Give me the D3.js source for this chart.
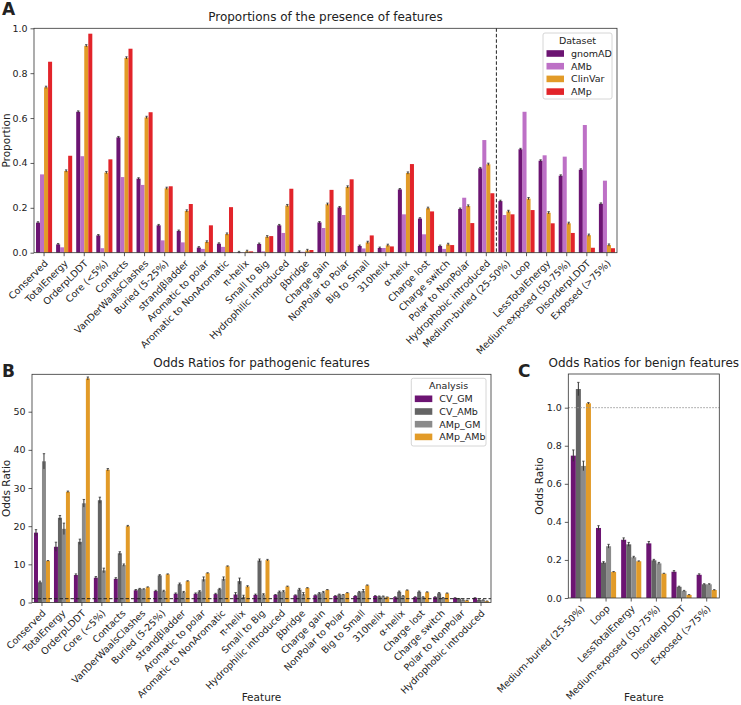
<!DOCTYPE html>
<html>
<head lang="en">
<meta charset="UTF-8">
<title></title>
<script src="https://cdnjs.cloudflare.com/ajax/libs/d3/7.8.5/d3.min.js"></script>
<style>
    body { margin: 0; background: #fff; }
    text { font-family: "DejaVu Sans", sans-serif; fill: #222; }
</style>
</head>
<body>
<script>

// ---- panel A: proportions ----
var featuresA = ["Conserved", "TotalEnergy", "OrderpLDDT", "Core (<5%)", "Contacts", "VanDerWaalsClashes",
    "Buried (5-25%)", "strandβladder", "Aromatic to polar", "Aromatic to NonAromatic", "π-helix", "Small to Big",
    "Hydrophilic introduced", "βbridge", "Charge gain", "NonPolar to Polar", "Big to Small", "310helix", "α-helix",
    "Charge lost", "Charge switch", "Polar to NonPolar", "Hydrophobic introduced", "Medium-buried (25-50%)", "Loop",
    "LessTotalEnergy", "Medium-exposed (50-75%)", "DisorderpLDDT", "Exposed (>75%)"];
var gnomAD  = [0.134, 0.037, 0.628, 0.077, 0.514, 0.330, 0.122, 0.097, 0.023, 0.040, 0.002, 0.039, 0.122, 0.004, 0.135,
               0.202, 0.030, 0.021, 0.282, 0.152, 0.030, 0.195, 0.376, 0.230, 0.461, 0.410, 0.343, 0.370, 0.218];
var AMb     = [0.349, 0.024, 0.430, 0.020, 0.337, 0.302, 0.055, 0.046, 0.017, 0.026, 0.001, 0.006, 0.088, 0.004, 0.110,
               0.168, 0.019, 0.021, 0.171, 0.082, 0.017, 0.245, 0.502, 0.168, 0.628, 0.434, 0.428, 0.569, 0.321];
var ClinVar = [0.737, 0.364, 0.922, 0.357, 0.868, 0.603, 0.287, 0.186, 0.048, 0.083, 0.006, 0.071, 0.210, 0.010, 0.216,
               0.293, 0.046, 0.033, 0.355, 0.198, 0.037, 0.208, 0.394, 0.184, 0.241, 0.178, 0.131, 0.078, 0.034];
var AMp     = [0.851, 0.432, 0.976, 0.416, 0.909, 0.626, 0.296, 0.217, 0.122, 0.203, 0.006, 0.074, 0.285, 0.012, 0.280,
               0.327, 0.077, 0.028, 0.395, 0.184, 0.034, 0.132, 0.265, 0.171, 0.190, 0.131, 0.088, 0.022, 0.020];
var datasets = ["gnomAD", "AMb", "ClinVar", "AMp"];
var errA = [0.004, 0, 0.005, 0];   // error half-width per dataset (tiny)
var yTicksA = [0, 0.2, 0.4, 0.6, 0.8, 1.0];

// ---- panel B: odds ratios, pathogenic ----
var featuresB = ["Conserved", "TotalEnergy", "OrderpLDDT", "Core (<5%)", "Contacts", "VanDerWaalsClashes",
    "Buried (5-25%)", "strandβladder", "Aromatic to polar", "Aromatic to NonAromatic", "π-helix", "Small to Big",
    "Hydrophilic introduced", "βbridge", "Charge gain", "NonPolar to Polar", "Big to Small", "310helix", "α-helix",
    "Charge lost", "Charge switch", "Polar to NonPolar", "Hydrophobic introduced"];
var CV_GM_B   = [18.3, 14.6, 7.2, 6.5, 6.2, 3.2, 3.0, 2.3, 2.3, 2.2, 2.1, 2.0, 2.0, 1.9, 1.9, 1.7, 1.7, 1.7, 1.4, 1.4, 1.4, 1.2, 1.2];
var CV_AMb_B  = [5.3, 22.2, 15.9, 26.8, 12.9, 3.6, 7.1, 4.8, 2.9, 3.5, 5.6, 11.0, 2.8, 3.4, 2.4, 2.1, 2.7, 1.6, 2.8, 2.8, 2.4, 1.0, 0.65];
var AMp_GM_B  = [37.0, 19.3, 26.0, 8.4, 9.8, 3.5, 3.0, 2.7, 6.1, 6.2, 1.5, 2.1, 2.9, 2.2, 2.7, 2.0, 3.0, 1.6, 1.7, 1.4, 1.2, 0.65, 0.65];
var AMp_AMb_B = [10.9, 29.0, 58.7, 34.8, 20.0, 4.0, 7.4, 5.6, 7.7, 9.5, 4.2, 11.1, 4.2, 3.8, 3.3, 2.5, 4.5, 1.4, 3.2, 2.7, 2.4, 0.55, 0.35];
var errCV_GM_B   = [0.8, 1.2, 0.3, 0.3, 0.3, 0.2, 0.2, 0.2, 0.2, 0.2, 0.5, 0.2, 0.1, 0.1, 0.1, 0.1, 0.1, 0.1, 0.1, 0.1, 0.1, 0.05, 0.05];
var errCV_AMb_B  = [0.3, 0.6, 0.7, 0.8, 0.4, 0.1, 0.2, 0.3, 0.2, 0.2, 0.8, 0.4, 0.2, 0.3, 0.2, 0.1, 0.2, 0.1, 0.2, 0.2, 0.2, 0.05, 0.05];
var errAMp_GM_B  = [2.0, 1.5, 1.0, 0.6, 0.3, 0.1, 0.2, 0.2, 0.6, 0.5, 0.4, 0.2, 0.2, 0.4, 0.2, 0.1, 0.4, 0.1, 0.1, 0.1, 0.1, 0.05, 0.05];
var errAMp_AMb_B = [0.1, 0.2, 0.4, 0.3, 0.2, 0.1, 0.1, 0.1, 0.1, 0.1, 0.2, 0.2, 0.1, 0.1, 0.1, 0.1, 0.1, 0.05, 0.1, 0.1, 0.1, 0.05, 0.05];
var yTicksB = [0, 10, 20, 30, 40, 50];

// ---- panel C: odds ratios, benign ----
var featuresC = ["Medium-buried (25-50%)", "Loop", "LessTotalEnergy", "Medium-exposed (50-75%)", "DisorderpLDDT", "Exposed (>75%)"];
var CV_GM_C   = [0.748, 0.368, 0.306, 0.287, 0.138, 0.122];
var CV_AMb_C  = [1.098, 0.186, 0.282, 0.198, 0.059, 0.072];
var AMp_GM_C  = [0.694, 0.272, 0.214, 0.182, 0.037, 0.072];
var AMp_AMb_C = [1.023, 0.137, 0.193, 0.128, 0.016, 0.042];
var errCV_GM_C   = [0.03, 0.012, 0.01, 0.01, 0.006, 0.005];
var errCV_AMb_C  = [0.035, 0.005, 0.01, 0.005, 0.003, 0.003];
var errAMp_GM_C  = [0.025, 0.01, 0.005, 0.005, 0.003, 0.003];
var errAMp_AMb_C = [0.004, 0.002, 0.002, 0.002, 0.002, 0.002];
var yTicksC = [0, 0.2, 0.4, 0.6, 0.8, 1.0];

var analyses = ["CV_GM", "CV_AMb", "AMp_GM", "AMp_AMb"];

var purple = "#6c1472", orchid = "#bd70c6", orange = "#e29b28", red = "#e2242a",
    dgray = "#646464", mgray = "#8b8b8b";

var svg = d3.select("body").append("svg")
        .attr("width", 741)
        .attr("height", 705);

// draws one grouped bar panel
function drawPanel(p) {
    var x = d3.scaleBand().domain(p.cats).range([p.left, p.right]).paddingInner(0.2).paddingOuter(0.1);
    var xs = d3.scaleBand().domain(p.series).range([0, x.bandwidth()]);
    var y = d3.scaleLinear().domain([0, p.ymax]).range([p.bottom, p.top]);

    var g = svg.append("g");

    p.series.forEach(function(s, si) {
        var rows = p.cats.map(function(c, i) { return { c: c, v: p.values[si][i], e: p.errs[si][i] }; });
        g.selectAll(null)
            .data(rows)
            .enter()
            .append("rect")
            .attr("x", function(d) { return x(d.c) + xs(s); })
            .attr("width", xs.bandwidth())
            .attr("y", function(d) { return y(d.v); })
            .attr("height", function(d) { return y(0) - y(d.v); })
            .attr("fill", p.colors[si]);

        var eb = rows.filter(function(d) { return d.e > 0; });
        g.selectAll(null)
            .data(eb)
            .enter()
            .append("line")
            .attr("x1", function(d) { return x(d.c) + xs(s) + xs.bandwidth() / 2; })
            .attr("x2", function(d) { return x(d.c) + xs(s) + xs.bandwidth() / 2; })
            .attr("y1", function(d) { return y(d.v - d.e); })
            .attr("y2", function(d) { return y(d.v + d.e); })
            .attr("stroke", "#333")
            .attr("stroke-width", 1);
        g.selectAll(null)
            .data(eb)
            .enter()
            .append("line")
            .attr("x1", function(d) { return x(d.c) + xs(s) + xs.bandwidth() / 2 - 1.2; })
            .attr("x2", function(d) { return x(d.c) + xs(s) + xs.bandwidth() / 2 + 1.2; })
            .attr("y1", function(d) { return y(d.v + d.e); })
            .attr("y2", function(d) { return y(d.v + d.e); })
            .attr("stroke", "#333")
            .attr("stroke-width", 0.8);
    });

    // reference lines
    if (p.hline) {
        g.append("line")
            .attr("x1", p.left).attr("x2", p.right)
            .attr("y1", y(1)).attr("y2", y(1))
            .attr("stroke", p.hline.color)
            .attr("stroke-width", 1)
            .attr("stroke-dasharray", p.hline.dash);
    }
    if (p.vlineAfter) {
        var vx = x(p.vlineAfter) + x.bandwidth() + x.step() * 0.1;
        g.append("line")
            .attr("x1", vx).attr("x2", vx)
            .attr("y1", p.top).attr("y2", p.bottom)
            .attr("stroke", "#222")
            .attr("stroke-width", 1)
            .attr("stroke-dasharray", "3.5,2");
    }

    // axes
    var ya = svg.append("g")
        .attr("transform", "translate(" + p.left + ",0)")
        .call(d3.axisLeft(y).tickValues(p.yticks).tickSize(3.5).tickPadding(3).tickFormat(p.yfmt));
    var xa = svg.append("g")
        .attr("transform", "translate(0," + p.bottom + ")")
        .call(d3.axisBottom(x).tickSize(3.5).tickSizeOuter(0));
    [ya, xa].forEach(function(a) {
        a.select(".domain").remove();
        a.selectAll("line").attr("stroke", "#333").attr("stroke-width", 0.8);
        a.selectAll("text").attr("font-size", "9.5px").attr("font-family", "DejaVu Sans").attr("fill", "#222");
    });
    xa.selectAll("text")
        .attr("x", 0).attr("y", 0).attr("dy", "0.35em")
        .attr("text-anchor", "end")
        .attr("transform", "translate(2,9) rotate(-45)");

    svg.append("rect")
        .attr("x", p.left).attr("y", p.top)
        .attr("width", p.right - p.left).attr("height", p.bottom - p.top)
        .attr("fill", "none").attr("stroke", "#333").attr("stroke-width", 0.8);

    // titles
    svg.append("text")
        .attr("x", (p.left + p.right) / 2).attr("y", p.top - 7)
        .attr("text-anchor", "middle").attr("font-size", "12px")
        .text(p.title);
    svg.append("text")
        .attr("transform", "translate(" + p.ylabX + "," + ((p.top + p.bottom) / 2) + ") rotate(-90)")
        .attr("text-anchor", "middle").attr("font-size", "10.5px")
        .text(p.ylabel);
    if (p.xlabel) {
        svg.append("text")
            .attr("x", (p.left + p.right) / 2).attr("y", 701)
            .attr("text-anchor", "middle").attr("font-size", "10.5px")
            .text(p.xlabel);
    }

    // legend
    if (p.legend) {
        var L = p.legend;
        var lg = svg.append("g");
        lg.append("rect")
            .attr("x", L.x).attr("y", L.y).attr("width", L.w).attr("height", L.h)
            .attr("rx", 2).attr("fill", "#fff").attr("stroke", "#ccc").attr("stroke-width", 0.8);
        lg.append("text")
            .attr("x", L.x + L.w / 2).attr("y", L.y + 10.5)
            .attr("text-anchor", "middle").attr("font-size", "9.5px")
            .text(L.title);
        p.series.forEach(function(s, si) {
            var cy = L.y + 20.5 + si * 12.7;
            lg.append("rect")
                .attr("x", L.x + 3.5).attr("y", cy - 3.3).attr("width", 17.5).attr("height", 6.6)
                .attr("fill", p.colors[si]);
            lg.append("text")
                .attr("x", L.x + 28).attr("y", cy).attr("dy", "0.35em")
                .attr("font-size", "9.5px")
                .text(s);
        });
    }
}

drawPanel({
    cats: featuresA, series: datasets,
    values: [gnomAD, AMb, ClinVar, AMp],
    errs: [featuresA.map(function() { return errA[0]; }), featuresA.map(function() { return errA[1]; }),
           featuresA.map(function() { return errA[2]; }), featuresA.map(function() { return errA[3]; })],
    colors: [purple, orchid, orange, red],
    left: 34, right: 617, top: 28.3, bottom: 252.7, ymax: 1.0,
    yticks: yTicksA, yfmt: d3.format(".1f"),
    title: "Proportions of the presence of features", ylabel: "Proportion", ylabX: 10,
    vlineAfter: "Hydrophobic introduced",
    legend: { x: 543, y: 33, w: 69, h: 66, title: "Dataset" }
});

drawPanel({
    cats: featuresB, series: analyses,
    values: [CV_GM_B, CV_AMb_B, AMp_GM_B, AMp_AMb_B],
    errs: [errCV_GM_B, errCV_AMb_B, errAMp_GM_B, errAMp_AMb_B],
    colors: [purple, dgray, mgray, orange],
    left: 32, right: 491, top: 374.3, bottom: 602.5, ymax: 59.8,
    yticks: yTicksB, yfmt: d3.format("d"),
    title: "Odds Ratios for pathogenic features", ylabel: "Odds Ratio", ylabX: 10, xlabel: "Feature",
    hline: { color: "#222", dash: "3.5,2" },
    legend: { x: 411.3, y: 378.3, w: 74.7, h: 67.7, title: "Analysis" }
});

drawPanel({
    cats: featuresC, series: analyses,
    values: [CV_GM_C, CV_AMb_C, AMp_GM_C, AMp_AMb_C],
    errs: [errCV_GM_C, errCV_AMb_C, errAMp_GM_C, errAMp_AMb_C],
    colors: [purple, dgray, mgray, orange],
    left: 568.3, right: 719.3, top: 374, bottom: 598, ymax: 1.177,
    yticks: yTicksC, yfmt: d3.format(".1f"),
    title: "Odds Ratios for benign features", ylabel: "Odds Ratio", ylabX: 543, xlabel: "Feature",
    hline: { color: "#999", dash: "1.5,1.5" }
});

// panel letters
[["A", 2, 15], ["B", 2, 377], ["C", 518, 377]].forEach(function(l) {
    svg.append("text")
        .attr("x", l[1]).attr("y", l[2])
        .attr("font-size", "17px").attr("font-weight", "bold").attr("fill", "#000")
        .text(l[0]);
});

</script>
</body>
</html>
